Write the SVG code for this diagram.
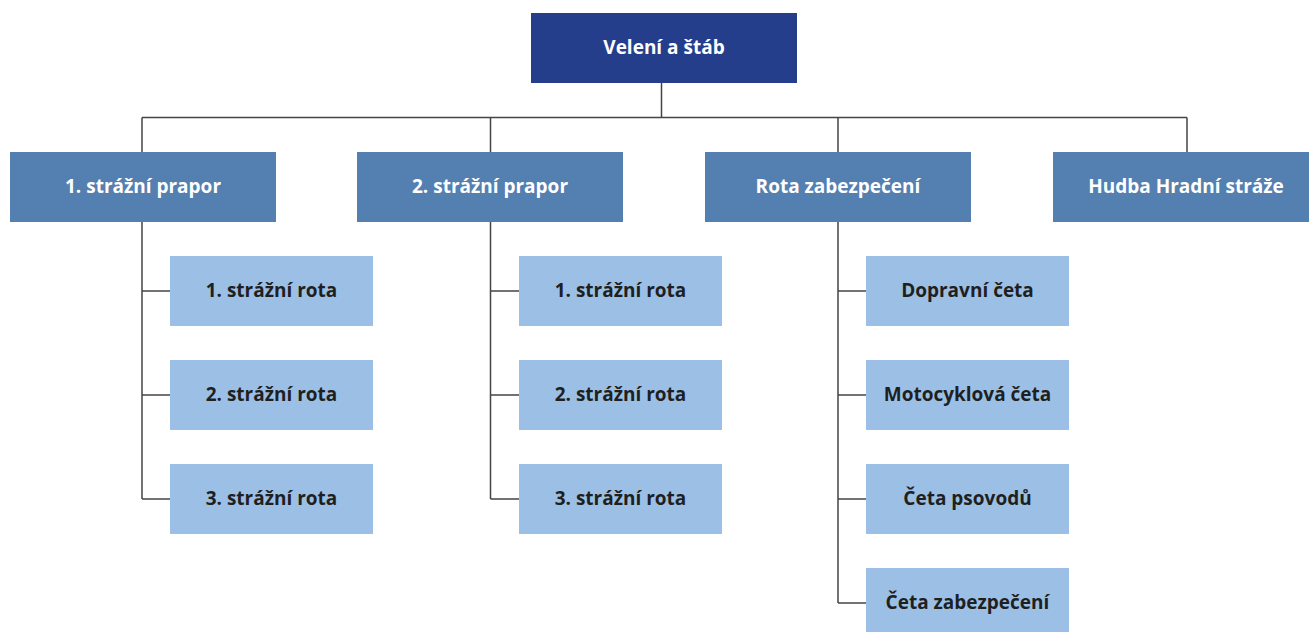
<svg xmlns="http://www.w3.org/2000/svg" width="1309" height="632" viewBox="0 0 1309 632">
<style>
.top{fill:#253E8C}
.l1{fill:#5480B1}
.l2{fill:#9BBFE5}
text{font-family:"Open Sans","Noto Sans","Liberation Sans",sans-serif;font-weight:bold;font-size:19px;text-anchor:middle;dominant-baseline:central}
.w{fill:#ffffff}
.d{fill:#1F1F1F}
.c{fill:none;stroke:#444444;stroke-width:1.5}
</style>
<rect width="1309" height="632" fill="#ffffff"/>
<g id="connectors">
<path class="c" d="M661.5 83V117.5M142 117.5H1187M142 117.5V152M490.5 117.5V152M838 117.5V152M1187 117.5V152"/>
<path class="c" d="M142 222V499M142 291H170M142 395H170M142 499H170"/>
<path class="c" d="M490.5 222V499M490.5 291H519M490.5 395H519M490.5 499H519"/>
<path class="c" d="M838 222V603M838 291H866M838 395H866M838 499H866M838 603H866"/>
</g>
<g id="n0"><rect class="top" x="531" y="13" width="266" height="70"/><text class="w" x="664" y="47">Velení a štáb</text></g>
<g id="n1"><rect class="l1" x="10" y="152" width="266" height="70"/><text class="w" x="143" y="186">1. strážní prapor</text></g>
<g id="n2"><rect class="l1" x="357" y="152" width="266" height="70"/><text class="w" x="490" y="186">2. strážní prapor</text></g>
<g id="n3"><rect class="l1" x="705" y="152" width="266" height="70"/><text class="w" x="838" y="186">Rota zabezpečení</text></g>
<g id="n4"><rect class="l1" x="1053" y="152" width="266" height="70"/><text class="w" x="1186" y="186">Hudba Hradní stráže</text></g>
<g id="n11"><rect class="l2" x="170" y="256" width="203" height="70"/><text class="d" x="271.5" y="290">1. strážní rota</text></g>
<g id="n12"><rect class="l2" x="170" y="360" width="203" height="70"/><text class="d" x="271.5" y="394">2. strážní rota</text></g>
<g id="n13"><rect class="l2" x="170" y="464" width="203" height="70"/><text class="d" x="271.5" y="498">3. strážní rota</text></g>
<g id="n21"><rect class="l2" x="519" y="256" width="203" height="70"/><text class="d" x="620.5" y="290">1. strážní rota</text></g>
<g id="n22"><rect class="l2" x="519" y="360" width="203" height="70"/><text class="d" x="620.5" y="394">2. strážní rota</text></g>
<g id="n23"><rect class="l2" x="519" y="464" width="203" height="70"/><text class="d" x="620.5" y="498">3. strážní rota</text></g>
<g id="n31"><rect class="l2" x="866" y="256" width="203" height="70"/><text class="d" x="967.5" y="290">Dopravní četa</text></g>
<g id="n32"><rect class="l2" x="866" y="360" width="203" height="70"/><text class="d" x="967.5" y="394">Motocyklová četa</text></g>
<g id="n33"><rect class="l2" x="866" y="464" width="203" height="70"/><text class="d" x="967.5" y="498">Četa psovodů</text></g>
<g id="n34"><rect class="l2" x="866" y="568" width="203" height="70"/><text class="d" x="967.5" y="602">Četa zabezpečení</text></g>
</svg>
